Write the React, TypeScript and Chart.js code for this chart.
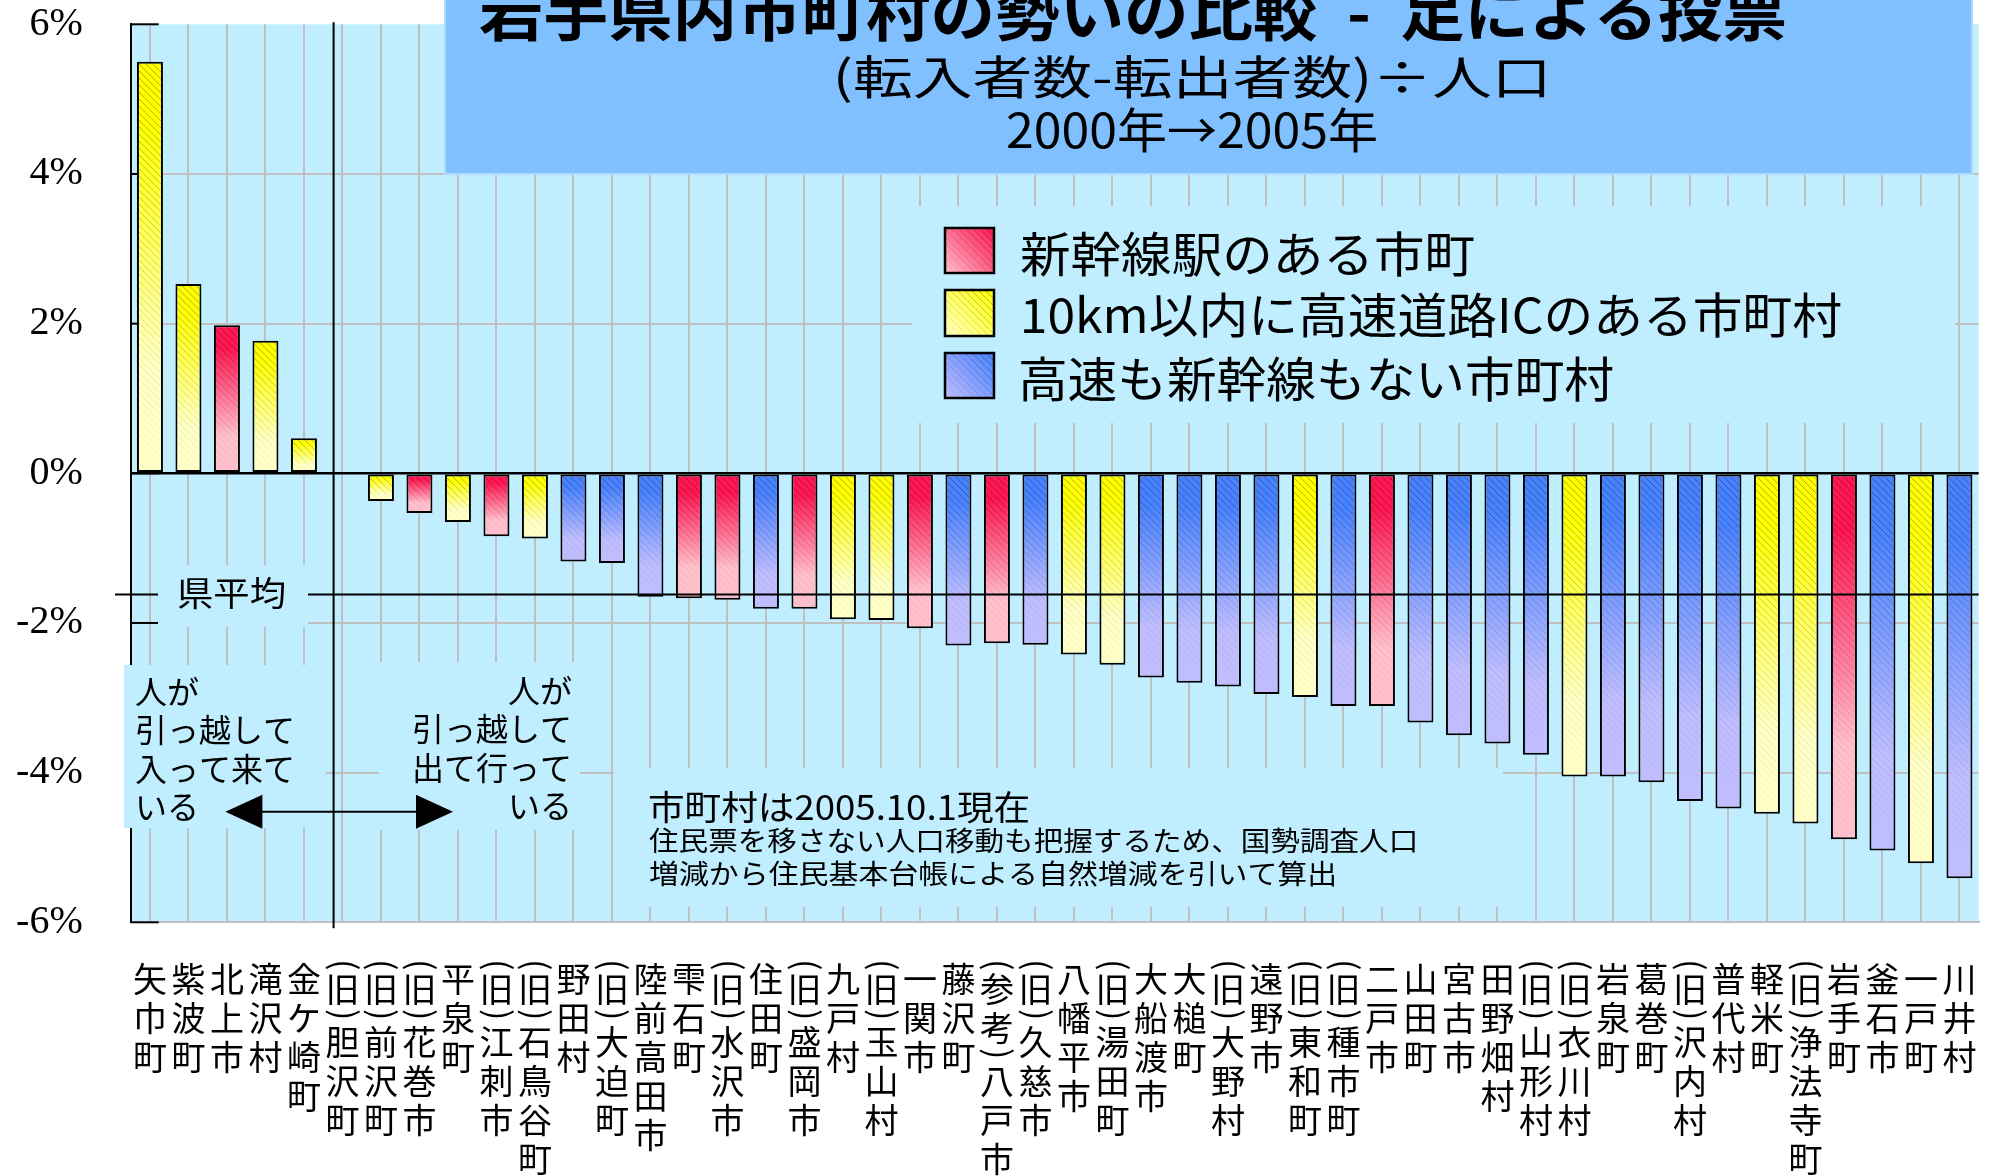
import React, { useEffect, useRef } from 'react';
import { Chart, registerables } from 'chart.js';

Chart.register(...registerables);

// ---------------- data ----------------
const categories: string[] = [
  '矢巾町', '紫波町', '北上市', '滝沢村', '金ケ崎町', '(旧)胆沢町', '(旧)前沢町', '(旧)花巻市',
  '平泉町', '(旧)江刺市', '(旧)石鳥谷町', '野田村', '(旧)大迫町', '陸前高田市', '雫石町', '(旧)水沢市',
  '住田町', '(旧)盛岡市', '九戸村', '(旧)玉山村', '一関市', '藤沢町', '(参考)八戸市', '(旧)久慈市',
  '八幡平市', '(旧)湯田町', '大船渡市', '大槌町', '(旧)大野村', '遠野市', '(旧)東和町', '(旧)種市町',
  '二戸市', '山田町', '宮古市', '田野畑村', '(旧)山形村', '(旧)衣川村', '岩泉町', '葛巻町',
  '(旧)沢内村', '普代村', '軽米町', '(旧)浄法寺町', '岩手町', '釜石市', '一戸町', '川井村',
];

const values: (number | null)[] = [
  5.5, 2.53, 1.98, 1.77, 0.47, null, -0.37, -0.53,
  -0.65, -0.84, -0.87, -1.18, -1.2, -1.65, -1.67, -1.69,
  -1.81, -1.81, -1.95, -1.96, -2.07, -2.3, -2.27, -2.29,
  -2.42, -2.56, -2.73, -2.8, -2.85, -2.95, -2.99, -3.11,
  -3.11, -3.33, -3.5, -3.61, -3.76, -4.05, -4.05, -4.13,
  -4.38, -4.48, -4.55, -4.68, -4.89, -5.04, -5.21, -5.41,
];

// 0 = 新幹線駅, 1 = 高速道路IC, 2 = どちらもない
const groups: number[] = [
  1, 1, 0, 1, 1, 1, 1, 0,
  1, 0, 1, 2, 2, 2, 0, 0,
  2, 0, 1, 1, 0, 2, 0, 2,
  1, 1, 2, 2, 2, 2, 1, 2,
  0, 2, 2, 2, 2, 1, 2, 2,
  2, 2, 1, 1, 0, 2, 1, 2,
];

const legendLabels: string[] = [
  '新幹線駅のある市町',
  '10km以内に高速道路ICのある市町村',
  '高速も新幹線もない市町村',
];

const yTickValues: number[] = [-6, -4, -2, 0, 2, 4, 6];
const prefAverage = -1.62;
const prefAverageLabel = '県平均';

const titleLines: string[] = [
  '岩手県内市町村の勢いの比較  -  足による投票',
  '(転入者数-転出者数)÷人口',
  '2000年→2005年',
];
const inNote: string[] = ['人が', '引っ越して', '入って来て', 'いる'];
const outNote: string[] = ['人が', '引っ越して', '出て行って', 'いる'];
const footNotes: string[] = [
  '市町村は2005.10.1現在',
  '住民票を移さない人口移動も把握するため、国勢調査人口',
  '増減から住民基本台帳による自然増減を引いて算出',
];

// ---------------- styles ----------------
const PLOT_BG = 'rgb(192,238,255)';
const TITLE_BG = 'rgb(128,192,255)';
const GRID = 'rgb(192,192,192)';
const JP = '"Noto Sans CJK JP", "Noto Sans", sans-serif';
const palette = [
  { top: 'rgb(255,22,82)', bottom: 'rgb(255,192,204)' },
  { top: 'rgb(255,255,0)', bottom: 'rgb(255,255,198)' },
  { top: 'rgb(72,130,255)', bottom: 'rgb(192,190,255)' },
];

function ok(...n: number[]) {
  return n.every((v) => Number.isFinite(v));
}

function barGradient(ctx: CanvasRenderingContext2D, g: number, top: number, bottom: number) {
  if (!ok(top, bottom)) return palette[g].top;
  const grad = ctx.createLinearGradient(0, top, 0, Math.max(bottom, top + 1));
  grad.addColorStop(0, palette[g].top);
  grad.addColorStop(0.15, palette[g].top);
  grad.addColorStop(0.75, palette[g].bottom);
  grad.addColorStop(1, palette[g].bottom);
  return grad;
}

function hatch(ctx: CanvasRenderingContext2D, x0: number, y0: number, x1: number, y1: number, diag = false) {
  if (!ok(x0, y0, x1, y1)) return;
  const h = y1 - y0;
  if (h <= 0 || x1 <= x0) return;
  ctx.save();
  ctx.beginPath();
  ctx.rect(x0, y0, x1 - x0, h);
  ctx.clip();
  const g = diag
    ? ctx.createLinearGradient(x1, y0, x0, y1)
    : ctx.createLinearGradient(0, y0, 0, y1);
  g.addColorStop(0, 'rgba(0,0,0,0.32)');
  g.addColorStop(0.6, 'rgba(0,0,0,0.13)');
  g.addColorStop(1, 'rgba(0,0,0,0.03)');
  ctx.strokeStyle = g;
  ctx.lineWidth = 1;
  ctx.beginPath();
  for (let t = x0 - h; t < x1; t += 7) {
    ctx.moveTo(t, y0);
    ctx.lineTo(t + h, y1);
  }
  ctx.stroke();
  ctx.restore();
}

// text whose ink spans exactly [left,right], vertically centred on cy
function fitText(ctx: CanvasRenderingContext2D, text: string, left: number, right: number, cy: number, font: string) {
  ctx.save();
  ctx.font = font;
  ctx.textAlign = 'left';
  ctx.textBaseline = 'middle';
  const m = ctx.measureText(text);
  const ink = m.actualBoundingBoxLeft + m.actualBoundingBoxRight;
  const sx = ink > 0 ? (right - left) / ink : 1;
  ctx.translate(left, cy);
  ctx.scale(sx, 1);
  ctx.fillText(text, m.actualBoundingBoxLeft, 0);
  ctx.restore();
}

function drawRotParen(ctx: CanvasRenderingContext2D, ch: string, cx: number, cy: number) {
  ctx.save();
  ctx.translate(cx, cy);
  ctx.rotate(Math.PI / 2);
  ctx.textAlign = 'left';
  ctx.textBaseline = 'alphabetic';
  const m = ctx.measureText(ch);
  const ix = (m.actualBoundingBoxRight - m.actualBoundingBoxLeft) / 2;
  const iy = (m.actualBoundingBoxDescent - m.actualBoundingBoxAscent) / 2;
  ctx.fillText(ch, -ix, -iy);
  ctx.restore();
}

function drawVerticalLabel(ctx: CanvasRenderingContext2D, text: string, cx: number, startY: number) {
  const P = 39;
  let cursor = startY;
  let prev = startY - P;
  for (const ch of Array.from(text)) {
    if (ch === '(') {
      drawRotParen(ctx, ch, cx, cursor - 13);
      cursor += 10;
    } else if (ch === ')') {
      drawRotParen(ctx, ch, cx, prev + 25);
      cursor = prev + 52.7;
    } else {
      ctx.textAlign = 'center';
      ctx.textBaseline = 'middle';
      ctx.fillText(ch, cx, cursor);
      prev = cursor;
      cursor += P;
    }
  }
}

const decorPlugin = {
  id: 'decor',
  beforeDraw(chart: any) {
    const { ctx, chartArea: a } = chart;
    ctx.save();
    ctx.fillStyle = PLOT_BG;
    ctx.fillRect(a.left, a.top, a.right - a.left, a.bottom - a.top);
    ctx.restore();
  },
  beforeDatasetsDraw(chart: any) {
    const { ctx, chartArea: a } = chart;
    const ys = chart.scales.y;
    ctx.save();
    ctx.strokeStyle = '#000';
    ctx.lineWidth = 2;
    for (const v of yTickValues) {
      const py = ys.getPixelForValue(v);
      ctx.beginPath();
      ctx.moveTo(a.left, py);
      ctx.lineTo(a.left + 28, py);
      ctx.stroke();
    }
    ctx.fillStyle = PLOT_BG;
    const boxes = [
      [912, 206, 1955, 423],
      [614, 768, 1503, 907],
      [124, 665, 326, 828],
      [379, 662, 580, 830],
      [158, 565, 308, 627],
    ];
    for (const [x0, y0, x1, y1] of boxes) ctx.fillRect(x0, y0, x1 - x0, y1 - y0);
    ctx.restore();
  },
  afterDatasetsDraw(chart: any) {
    const { ctx, chartArea: a } = chart;
    const ys = chart.scales.y;
    const xs = chart.scales.x;
    const meta = chart.getDatasetMeta(0);
    meta.data.forEach((el: any, i: number) => {
      if (values[i] == null) return;
      const p = el.getProps(['x', 'y', 'base', 'width'], true);
      const top = Math.min(p.y, p.base);
      const bottom = Math.max(p.y, p.base);
      hatch(ctx, p.x - p.width / 2 + 2, top + 2, p.x + p.width / 2 - 2, bottom - 2);
    });

    ctx.save();
    const ay = ys.getPixelForValue(prefAverage);
    ctx.strokeStyle = '#000';
    ctx.lineWidth = 2;
    ctx.beginPath();
    ctx.moveTo(115, ay);
    ctx.lineTo(158, ay);
    ctx.moveTo(308, ay);
    ctx.lineTo(a.right, ay);
    ctx.stroke();
    ctx.fillStyle = '#000';
    fitText(ctx, prefAverageLabel, 178, 285, ay - 1, `34px ${JP}`);

    const step = xs.getPixelForValue(5) - xs.getPixelForValue(4);
    const dx = xs.getPixelForValue(5) - 0.23 * step;
    ctx.beginPath();
    ctx.moveTo(dx, a.top - 2);
    ctx.lineTo(dx, a.bottom + 6);
    ctx.stroke();

    const arY = 811.7;
    const l = 225.4, r = 453, hl = 37, hh = 17;
    ctx.beginPath();
    ctx.moveTo(l + hl - 2, arY);
    ctx.lineTo(r - hl + 2, arY);
    ctx.stroke();
    ctx.beginPath();
    ctx.moveTo(l, arY);
    ctx.lineTo(l + hl, arY - hh);
    ctx.lineTo(l + hl, arY + hh);
    ctx.closePath();
    ctx.fill();
    ctx.beginPath();
    ctx.moveTo(r, arY);
    ctx.lineTo(r - hl, arY - hh);
    ctx.lineTo(r - hl, arY + hh);
    ctx.closePath();
    ctx.fill();

    ctx.font = `32px ${JP}`;
    ctx.textBaseline = 'middle';
    const noteYs = [692, 730, 769, 807];
    ctx.textAlign = 'left';
    inNote.forEach((t, i) => ctx.fillText(t, 135, noteYs[i]));
    ctx.textAlign = 'right';
    outNote.forEach((t, i) => ctx.fillText(t, 572, noteYs[i] - 1));

    fitText(ctx, footNotes[0], 649, 1028, 807, `34px ${JP}`);
    fitText(ctx, footNotes[1], 649, 1415, 841, `27px ${JP}`);
    fitText(ctx, footNotes[2], 649, 1335, 874, `27px ${JP}`);

    ctx.fillStyle = TITLE_BG;
    ctx.fillRect(445, 0, 1972 - 445, 173);
    ctx.strokeStyle = 'rgb(175,218,255)';
    ctx.lineWidth = 2;
    ctx.strokeRect(445, -2, 1972 - 445, 176);
    ctx.fillStyle = '#000';
    fitText(ctx, titleLines[0], 479, 1785, 12, `bold 62px ${JP}`);
    fitText(ctx, titleLines[1], 838, 1545, 77, `46px ${JP}`);
    fitText(ctx, titleLines[2], 1007, 1376, 130, `48px ${JP}`);

    const lx0 = 945, lx1 = 994;
    const rows = [
      [228, 273, 253.5, 1021, 1474],
      [290, 336, 315, 1024, 1841],
      [353, 398, 378.5, 1021, 1613],
    ];
    rows.forEach(([y0, y1, cy, tl, tr], g) => {
      const grad = ctx.createLinearGradient(lx1, y0, lx0, y1);
      grad.addColorStop(0, palette[g].top);
      grad.addColorStop(1, palette[g].bottom);
      ctx.fillStyle = grad;
      ctx.fillRect(lx0, y0, lx1 - lx0, y1 - y0);
      hatch(ctx, lx0 + 1, y0 + 1, lx1 - 1, y1 - 1, true);
      ctx.strokeStyle = '#000';
      ctx.lineWidth = 2.5;
      ctx.strokeRect(lx0, y0, lx1 - lx0, y1 - y0);
      ctx.fillStyle = '#000';
      fitText(ctx, legendLabels[g], tl, tr, cy, `48px ${JP}`);
    });
    ctx.restore();
  },
  afterDraw(chart: any) {
    const { ctx, chartArea: a } = chart;
    const xs = chart.scales.x;
    ctx.save();
    ctx.fillStyle = '#000';
    ctx.font = `34px ${JP}`;
    categories.forEach((c, i) => {
      drawVerticalLabel(ctx, c, xs.getPixelForValue(i), a.bottom + 56.7);
    });
    ctx.restore();
  },
};

export default function App() {
  const ref = useRef<HTMLCanvasElement>(null);
  useEffect(() => {
    const canvas = ref.current;
    if (!canvas) return;
    const chart = new Chart(canvas, {
      type: 'bar',
      data: {
        labels: categories,
        datasets: [
          {
            data: values as any,
            backgroundColor: (c: any) => {
              const i = c.dataIndex;
              const v = values[i];
              const g = groups[i] ?? 1;
              const ys = c.chart.scales?.y;
              if (v == null || !ys || !c.chart.chartArea) return palette[g].top;
              const p0 = ys.getPixelForValue(0);
              const p1 = ys.getPixelForValue(v);
              return barGradient(c.chart.ctx, g, Math.min(p0, p1), Math.max(p0, p1));
            },
            borderColor: '#000',
            borderWidth: 2,
            borderSkipped: false,
            barPercentage: 0.675,
            categoryPercentage: 1,
          },
        ],
      },
      options: {
        responsive: false,
        animation: false,
        events: [],
        layout: { padding: { left: 0, right: 22.3, top: 24.3, bottom: 0 } },
        plugins: { legend: { display: false }, tooltip: { enabled: false } },
        scales: {
          x: {
            type: 'category',
            offset: true,
            grid: { offset: false, color: GRID, lineWidth: 2, drawTicks: false },
            border: { display: true, color: GRID, width: 2 },
            ticks: { display: false },
            afterFit: (s: any) => {
              s.height = 253.7;
              s.paddingLeft = 0;
              s.paddingRight = 0;
              s.paddingTop = 0;
              s.paddingBottom = 0;
            },
          },
          y: {
            min: -6,
            max: 6,
            ticks: {
              stepSize: 2,
              color: '#000',
              padding: 48,
              font: { family: '"Liberation Serif", "Times New Roman", serif', size: 40 },
              callback: (v: any) => `${v}%`,
            },
            grid: {
              drawTicks: false,
              color: (c: any) => (c.tick?.value === 0 ? '#000' : c.tick?.value === 6 ? 'rgba(0,0,0,0)' : GRID),
              lineWidth: (c: any) => (c.tick?.value === 0 ? 2.5 : 2),
            },
            border: { display: true, color: '#000', width: 2 },
            afterFit: (s: any) => {
              s.width = 130.7;
              s.paddingLeft = 0;
              s.paddingRight = 0;
              s.paddingTop = 0;
              s.paddingBottom = 0;
            },
          },
        },
      } as any,
      plugins: [decorPlugin],
    });
    return () => chart.destroy();
  }, []);
  return (
    <div style={{ position: 'absolute', left: 0, top: 0, width: 2001, height: 1176, background: '#fff' }}>
      <canvas ref={ref} width={2001} height={1176} style={{ display: 'block', width: 2001, height: 1176 }} />
    </div>
  );
}
